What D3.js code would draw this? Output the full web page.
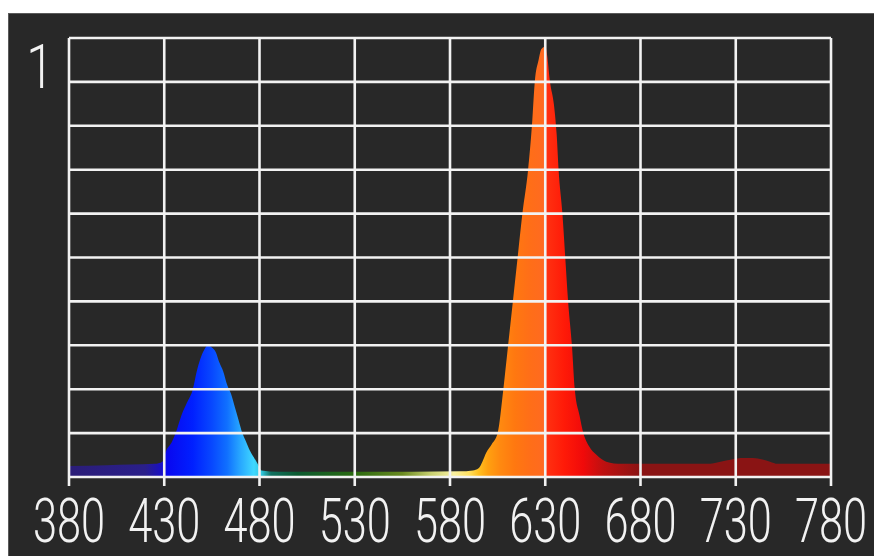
<!DOCTYPE html>
<html>
<head>
<meta charset="utf-8">
<script src="https://cdn.jsdelivr.net/npm/d3@7"></script>
<style>
  html, body { margin: 0; padding: 0; background: #fff; }
  svg { display: block; }
</style>
</head>
<body>
<svg id="chart" width="874" height="556"></svg>
<script>
// spectrum samples (nm, relative intensity)
const wavelengths = [380, 400, 425, 429, 431, 434, 436, 439, 442, 445, 447, 449, 451, 453, 455, 457, 459, 461, 463, 465, 467, 469, 471, 473, 475, 477, 479, 481, 490, 520, 560, 585, 592, 595, 597, 599, 602, 605, 608, 610.5, 613, 615.5, 618, 621, 623, 624.5, 626.5, 628, 630, 631, 632.5, 634.5, 636, 637, 639, 640.5, 642, 644, 645.5, 648, 650, 653, 657, 662, 670, 700, 715, 722, 728, 734, 739, 744, 748, 752, 780];
const intensity   = [0.025, 0.027, 0.03, 0.035, 0.06, 0.08, 0.1, 0.14, 0.17, 0.2, 0.24, 0.27, 0.29, 0.3, 0.295, 0.285, 0.26, 0.24, 0.21, 0.19, 0.16, 0.13, 0.1, 0.08, 0.06, 0.045, 0.03, 0.015, 0.012, 0.012, 0.012, 0.013, 0.015, 0.02, 0.035, 0.055, 0.075, 0.1, 0.2, 0.3, 0.4, 0.5, 0.6, 0.7, 0.8, 0.9, 0.95, 0.975, 0.98, 0.96, 0.9, 0.85, 0.78, 0.7, 0.6, 0.5, 0.4, 0.3, 0.2, 0.14, 0.1, 0.07, 0.05, 0.035, 0.03, 0.03, 0.03, 0.035, 0.04, 0.043, 0.043, 0.04, 0.035, 0.03, 0.03];

const xTicks = [380, 430, 480, 530, 580, 630, 680, 730, 780];
const yGrid  = [0, 0.1, 0.2, 0.3, 0.4, 0.5, 0.6, 0.7, 0.8, 0.9, 1];
const yLabel = "1";

// colour of the fill along the wavelength axis
const stopNm    = [380, 420, 428, 432, 445, 455, 463, 470, 477, 481, 486, 500, 530, 555, 570, 582, 590, 595, 600, 606, 614, 622, 629, 631, 640, 650, 660, 680, 780];
const stopColor = ["#2b1d78", "#2a1f8a", "#1a10c0", "#0808f0", "#0020ff", "#0848ff", "#1070ff", "#28a8ff", "#40d8ff", "#30c8e0", "#107060", "#0b5a30", "#2a6a10", "#6a8a20", "#c8d070", "#f8f0a0", "#ffe060", "#ffc020", "#ffa010", "#ff8a10", "#ff7810", "#ff6e18", "#ff6a20", "#ff3010", "#ff1a08", "#f00a0a", "#c01010", "#8a1414", "#8a1414"];

const svg = d3.select("#chart");

// dark panel
svg.append("rect")
  .attr("x", 8.5)
  .attr("y", 13.5)
  .attr("width", 874)
  .attr("height", 556)
  .attr("fill", "#282828")
  .attr("stroke", "#5a5a5a");

const x = d3.scaleLinear().domain([380, 780]).range([69, 831]);
const y = d3.scaleLinear().domain([0, 1]).range([477, 38]);

const grad = svg.append("defs")
  .append("linearGradient")
  .attr("id", "spec")
  .attr("gradientUnits", "userSpaceOnUse")
  .attr("x1", x(380)).attr("x2", x(780))
  .attr("y1", 0).attr("y2", 0);

grad.selectAll("stop")
  .data(stopNm)
  .enter()
  .append("stop")
  .attr("offset", d => (d - 380) / 400)
  .attr("stop-color", (d, i) => stopColor[i]);

const area = d3.area()
  .x(d => x(d[0]))
  .y0(y(0))
  .y1(d => y(d[1]))
  .curve(d3.curveMonotoneX);

svg.append("path")
  .datum(wavelengths.map((w, i) => [w, intensity[i]]))
  .attr("d", area)
  .attr("fill", "url(#spec)");

// grid on top of the spectrum
const grid = svg.append("g")
  .attr("stroke", "#f2f2f2")
  .attr("stroke-width", 2.6);

grid.selectAll(".h")
  .data(yGrid)
  .enter()
  .append("line")
  .attr("x1", x(380)).attr("x2", x(780))
  .attr("y1", d => y(d)).attr("y2", d => y(d));

grid.selectAll(".v")
  .data(xTicks)
  .enter()
  .append("line")
  .attr("x1", d => x(d)).attr("x2", d => x(d))
  .attr("y1", y(1)).attr("y2", y(0) + 9);

const labels = svg.append("g")
  .attr("fill", "#f2f2f2")
  .attr("font-family", "Roboto, 'DejaVu Sans', sans-serif")
  .attr("font-weight", 300)
  .attr("font-size", 62);

// narrow digits: squeeze horizontally
labels.selectAll("text")
  .data(xTicks)
  .enter()
  .append("text")
  .attr("transform", d => `translate(${x(d)},542) scale(0.7,1)`)
  .attr("text-anchor", "middle")
  .text(d => d);

labels.append("text")
  .attr("transform", "translate(40,88) scale(0.8,1)")
  .attr("text-anchor", "middle")
  .text(yLabel);
</script>
</body>
</html>
